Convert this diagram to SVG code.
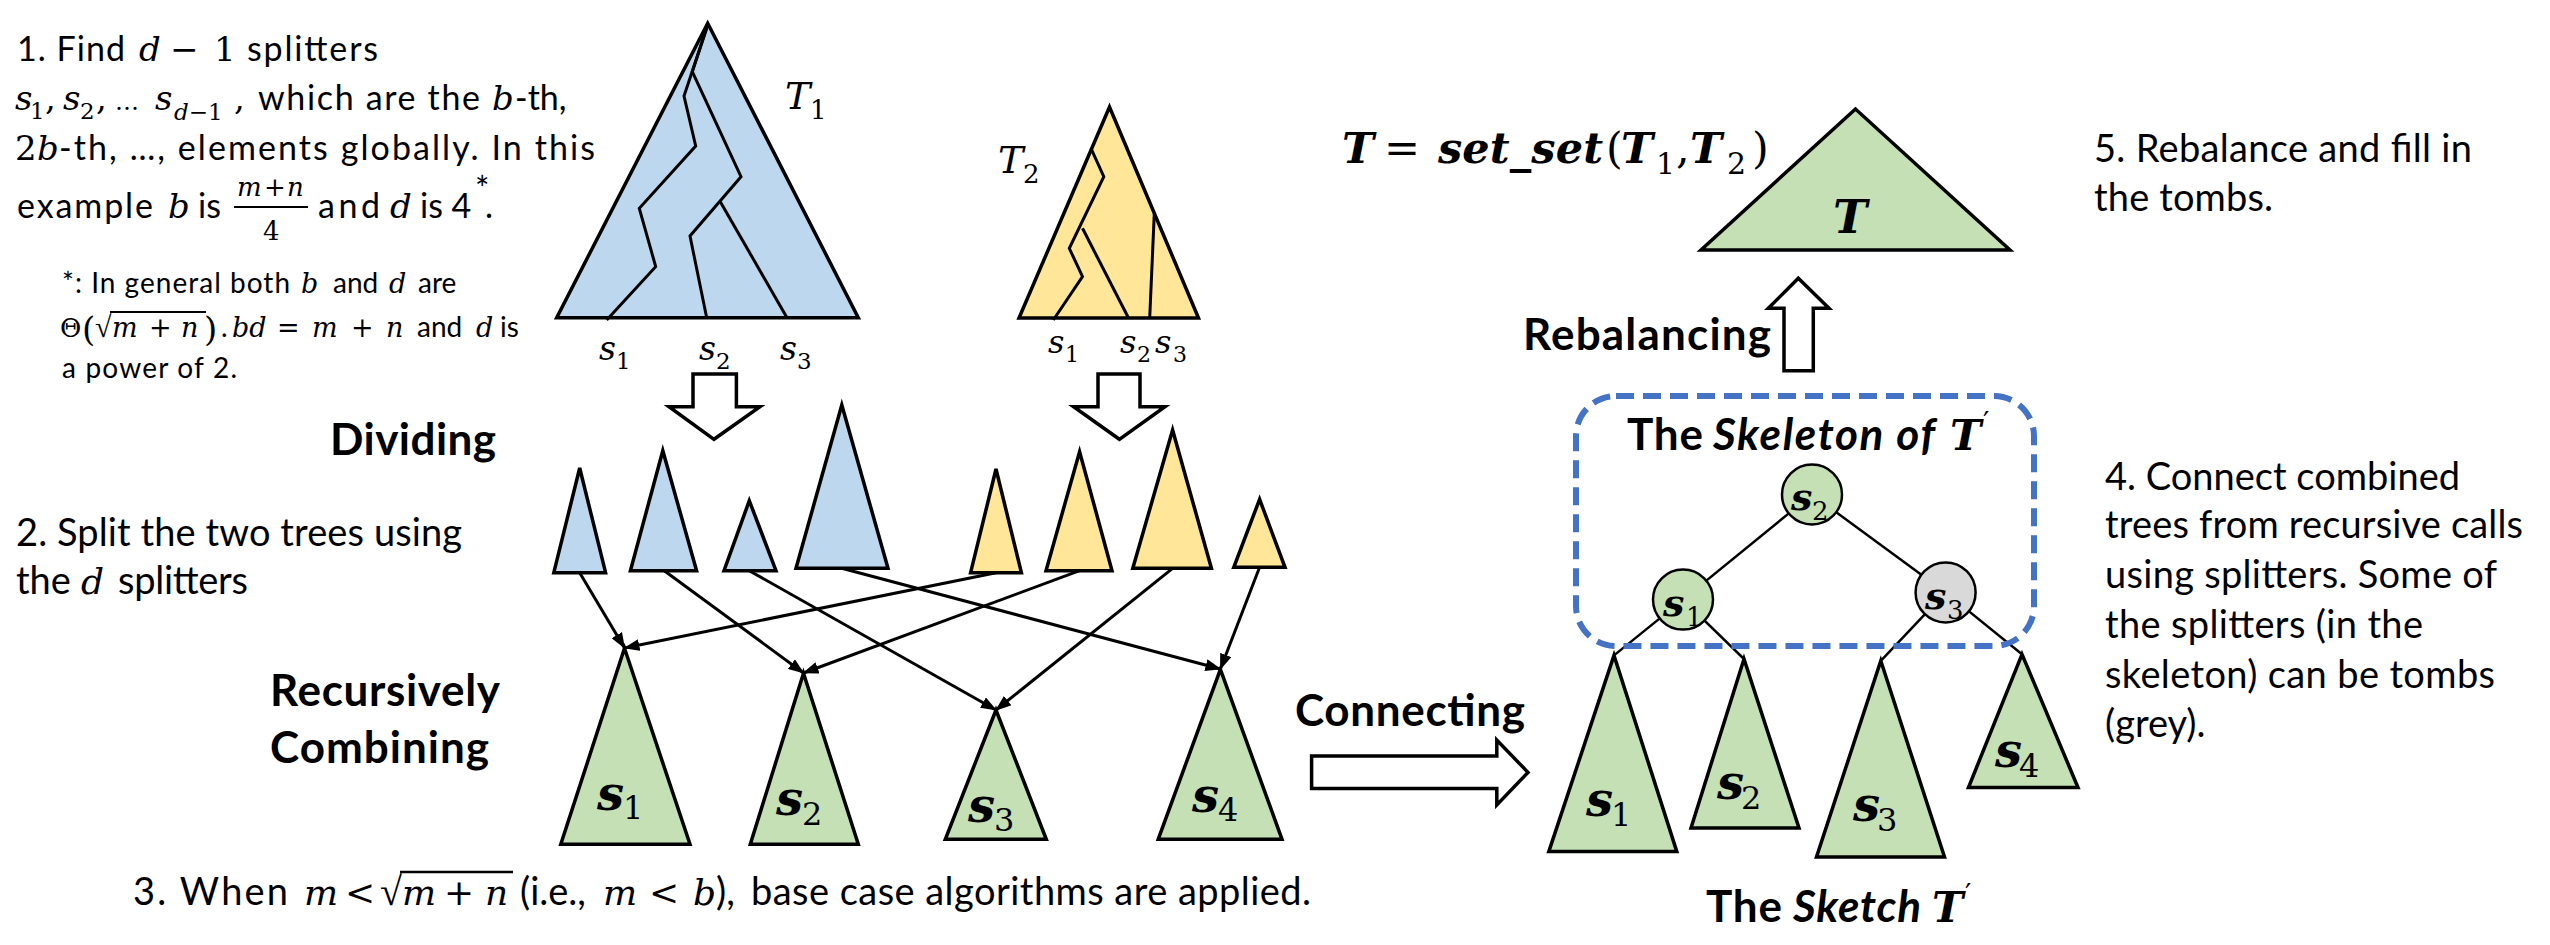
<svg xmlns="http://www.w3.org/2000/svg" width="2550" height="945" viewBox="0 0 2550 945">
<defs>
<style>
.t{font-family:Lato,"Liberation Sans",sans-serif;font-size:38px;fill:#000}
.t1{font-family:Lato,"Liberation Sans",sans-serif;font-size:34px;fill:#000}
.fn{font-family:Lato,"Liberation Sans",sans-serif;font-size:28px;fill:#000}
.lb{font-family:Lato,"Liberation Sans",sans-serif;font-size:44px;font-weight:bold;fill:#000}
.lbi{font-family:Lato,"Liberation Sans",sans-serif;font-size:44px;font-weight:bold;font-style:italic;fill:#000}
.m{font-family:"DejaVu Serif",serif;font-style:italic;fill:#000}
.mu{font-family:"DejaVu Serif",serif;fill:#000}
.rt{font-family:"Liberation Serif",serif;fill:#000}
.mb{font-family:"DejaVu Serif",serif;font-style:italic;font-weight:bold;fill:#000}
.blue{fill:#BDD7EE;stroke:#000;stroke-width:3.5}
.yel{fill:#FFE699;stroke:#000;stroke-width:3.5}
.grn{fill:#C5E0B4;stroke:#000;stroke-width:3.5}
.inner{fill:none;stroke:#000;stroke-width:3}
.blk{fill:#fff;stroke:#000;stroke-width:3.5}
.con{fill:none;stroke:#000;stroke-width:3}
.edge{fill:none;stroke:#000;stroke-width:2.5}
</style>
<marker id="ah" markerWidth="16" markerHeight="12" refX="15" refY="6" orient="auto" markerUnits="userSpaceOnUse">
<path d="M0,0 L16,6 L0,12 Z" fill="#000"/>
</marker>
</defs>
<rect width="2550" height="945" fill="#fff"/>

<g id="text-step1">
<text class="t1" x="17" y="61" textLength="108">1. Find</text>
<text class="m" x="139" y="61" font-size="34">d</text>
<text class="mu" x="170" y="61" font-size="34">−</text>
<text class="mu" x="214" y="61" font-size="34">1</text>
<text class="t1" x="247" y="61" textLength="131">splitters</text>

<text class="m" x="15" y="110" font-size="34">s</text>
<text class="mu" x="30" y="119" font-size="23">1</text>
<text class="mu" x="45" y="110" font-size="34">,</text>
<text class="m" x="63" y="110" font-size="34">s</text>
<text class="mu" x="80" y="119" font-size="23">2</text>
<text class="mu" x="96" y="110" font-size="34">,</text>
<text class="mu" x="115" y="110" font-size="24">…</text>
<text class="m" x="155" y="110" font-size="34">s</text>
<text class="m" x="174" y="120" font-size="23">d<tspan class="mu" font-style="normal">−1</tspan></text>
<text class="mu" x="234" y="110" font-size="34">,</text>
<text class="t1" x="258" y="110" textLength="222">which are the</text>
<text class="m" x="492" y="110" font-size="34">b</text>
<text class="t1" x="515" y="110">-th,</text>

<text class="mu" x="15" y="160" font-size="34">2</text>
<text class="m" x="37" y="160" font-size="34">b</text>
<text class="t1" x="59" y="160" textLength="536">-th, …, elements globally. In this</text>

<text class="t1" x="17" y="218" textLength="136">example</text>
<text class="m" x="168" y="218" font-size="34">b</text>
<text class="t1" x="198" y="218">is</text>
<text class="m" x="237" y="196" font-size="26">m</text>
<text class="mu" x="264" y="196" font-size="26">+</text>
<text class="m" x="287" y="196" font-size="26">n</text>
<line x1="234" y1="207" x2="308" y2="207" stroke="#000" stroke-width="2"/>
<text class="mu" x="263" y="240" font-size="26">4</text>
<text class="t1" x="318" y="218" textLength="62">and</text>
<text class="m" x="390" y="218" font-size="34">d</text>
<text class="t1" x="420" y="218">is 4</text>
<text class="t1" x="475" y="201" font-size="20">*</text>
<text class="t1" x="485" y="218">.</text>
</g>

<g id="text-footnote">
<text class="fn" x="62" y="293" textLength="228">*: In general both</text>
<text class="m" x="301" y="293" font-size="27">b</text>
<text class="fn" x="333" y="293">and</text>
<text class="m" x="389" y="293" font-size="27">d</text>
<text class="fn" x="418" y="293">are</text>
<text class="mu" x="60" y="337" font-size="26">Θ</text>
<text class="mu" x="82" y="341" font-size="34">(</text>
<text class="rt" x="95" y="337" font-size="30">√</text>
<line x1="110" y1="312" x2="206" y2="312" stroke="#000" stroke-width="2"/>
<text class="m" x="112" y="337" font-size="27">m</text>
<text class="mu" x="149" y="337" font-size="27">+</text>
<text class="m" x="181" y="337" font-size="27">n</text>
<text class="mu" x="204" y="341" font-size="34">)</text>
<text class="fn" x="221" y="337">.</text>
<text class="m" x="232" y="337" font-size="27">bd</text>
<text class="mu" x="277" y="337" font-size="27">=</text>
<text class="m" x="312" y="337" font-size="27">m</text>
<text class="mu" x="351" y="337" font-size="27">+</text>
<text class="m" x="386" y="337" font-size="27">n</text>
<text class="fn" x="417" y="337">and</text>
<text class="m" x="476" y="337" font-size="27">d</text>
<text class="fn" x="500" y="337">is</text>
<text class="fn" x="62" y="378" textLength="175">a power of 2.</text>
</g>

<g id="text-step2">
<text class="t" x="16" y="546" textLength="446">2. Split the two trees using</text>
<text class="t" x="16" y="594">the</text>
<text class="m" x="81" y="594" font-size="36">d</text>
<text class="t" x="118" y="594" textLength="130">splitters</text>
</g>

<g id="text-step3">
<text class="t" x="133" y="905" textLength="155">3. When</text>
<text class="m" x="304" y="905" font-size="36">m</text>
<text class="mu" x="345" y="905" font-size="36">&lt;</text>
<text class="rt" x="380" y="905" font-size="40">√</text>
<line x1="400" y1="872" x2="513" y2="872" stroke="#000" stroke-width="2.5"/>
<text class="m" x="402" y="905" font-size="36">m</text>
<text class="mu" x="444" y="905" font-size="36">+</text>
<text class="m" x="485" y="905" font-size="36">n</text>
<text class="t" x="520" y="905">(i.e.,</text>
<text class="m" x="603" y="905" font-size="36">m</text>
<text class="mu" x="649" y="905" font-size="36">&lt;</text>
<text class="m" x="693" y="905" font-size="36">b</text>
<text class="t" x="716" y="905">),</text>
<text class="t" x="751" y="905" textLength="560">base case algorithms are applied.</text>
</g>

<g id="text-step4">
<text class="t" x="2105" y="490" textLength="355">4. Connect combined</text>
<text class="t" x="2105" y="538" textLength="418">trees from recursive calls</text>
<text class="t" x="2105" y="588" textLength="392">using splitters. Some of</text>
<text class="t" x="2105" y="638" textLength="318">the splitters (in the</text>
<text class="t" x="2105" y="688" textLength="390">skeleton) can be tombs</text>
<text class="t" x="2105" y="737">(grey).</text>
</g>

<g id="text-step5">
<text class="t" x="2094" y="162" textLength="378">5. Rebalance and fill in</text>
<text class="t" x="2094" y="211" textLength="179">the tombs.</text>
</g>

<g id="label-dividing"><text class="lb" x="330" y="455" textLength="166">Dividing</text></g>
<g id="label-recursive">
<text class="lb" x="270" y="706" textLength="230">Recursively</text>
<text class="lb" x="270" y="763" textLength="219">Combining</text>
</g>
<g id="label-connecting"><text class="lb" x="1295" y="726" textLength="230">Connecting</text></g>
<g id="label-rebalancing"><text class="lb" x="1523" y="350" textLength="248">Rebalancing</text></g>

<g id="formula">
<text class="mb" x="1342" y="163" font-size="43">T</text>
<text class="mu" x="1384" y="163" font-size="43">=</text>
<text class="mb" x="1438" y="163" font-size="43" textLength="165">set_set</text>
<text class="mu" x="1606" y="163" font-size="43">(</text>
<text class="mb" x="1621" y="163" font-size="43">T</text>
<text class="mu" x="1656" y="174" font-size="30">1</text>
<text class="mu" x="1676" y="163" font-size="43">,</text>
<text class="mb" x="1690" y="163" font-size="43">T</text>
<text class="mu" x="1727" y="174" font-size="30">2</text>
<text class="mu" x="1752" y="163" font-size="43">)</text>
</g>

<g id="connectors">
<path class="blk" d="M693,374 L736.4,374 L736.4,406.7 L760,406.7 L714,439.3 L669,406.7 L693,406.7 Z"/>
<path class="blk" d="M1098,374 L1140,374 L1140,406.7 L1165,406.7 L1119.4,439.3 L1073.6,406.7 L1098,406.7 Z"/>
<path class="blk" d="M1311.6,756 L1496.8,756 L1496.8,740 L1528,772.4 L1496.8,805 L1496.8,788.6 L1311.6,788.6 Z"/>
<path class="blk" d="M1784,370.7 L1784,308.3 L1768.3,308.3 L1798.3,278.3 L1829,308.3 L1813.3,308.3 L1813.3,370.7 Z"/>
<line class="con" x1="579.7" y1="572.7" x2="624.5" y2="648" marker-end="url(#ah)"/>
<line class="con" x1="664.3" y1="570.7" x2="803.5" y2="673" marker-end="url(#ah)"/>
<line class="con" x1="749.3" y1="570.7" x2="996" y2="710" marker-end="url(#ah)"/>
<line class="con" x1="841.8" y1="568.3" x2="1220.4" y2="669" marker-end="url(#ah)"/>
<line class="con" x1="996" y1="572.7" x2="624.5" y2="648" marker-end="url(#ah)"/>
<line class="con" x1="1079.6" y1="570.7" x2="803.5" y2="673" marker-end="url(#ah)"/>
<line class="con" x1="1172.6" y1="568.3" x2="996" y2="710" marker-end="url(#ah)"/>
<line class="con" x1="1259.6" y1="567.3" x2="1220.4" y2="669" marker-end="url(#ah)"/>
<line class="edge" x1="1812" y1="494.5" x2="1683" y2="599.6"/>
<line class="edge" x1="1812" y1="494.5" x2="1945.6" y2="592.4"/>
<line class="edge" x1="1683" y1="599.6" x2="1614" y2="655.4"/>
<line class="edge" x1="1683" y1="599.6" x2="1744" y2="659"/>
<line class="edge" x1="1945.6" y1="592.4" x2="1880.8" y2="660.8"/>
<line class="edge" x1="1945.6" y1="592.4" x2="2022" y2="654.3"/>
</g>

<g id="tree-T1">
<polygon class="blue" points="707.7,23.3 556.7,317.7 858.3,317.7"/>
<polyline class="inner" points="707.7,25 684,96 695.7,146 639.3,208.3 655.7,266.7 606.7,320"/>
<polyline class="inner" points="707.7,25 692.3,71.7 741,176.7 690,236 706.7,317.7"/>
<polyline class="inner" points="720.3,201.7 787,317.7"/>
<text class="m" x="785" y="109" font-size="38">T</text>
<text class="mu" x="810" y="119" font-size="26">1</text>
<text class="m" x="599" y="360" font-size="33">s</text>
<text class="mu" x="616" y="369" font-size="23">1</text>
<text class="m" x="699" y="360" font-size="33">s</text>
<text class="mu" x="716" y="369" font-size="23">2</text>
<text class="m" x="780" y="360" font-size="33">s</text>
<text class="mu" x="797" y="369" font-size="23">3</text>
</g>

<g id="tree-T2">
<polygon class="yel" points="1109.5,107 1019,318 1198.5,318"/>
<polyline class="inner" points="1091,148.3 1103.8,176.7 1069.3,248.3 1082.5,276.7 1053.3,320"/>
<polyline class="inner" points="1082.5,228.3 1128.5,318"/>
<polyline class="inner" points="1154.3,213.3 1149.7,318"/>
<text class="m" x="998" y="173" font-size="38">T</text>
<text class="mu" x="1023" y="183" font-size="26">2</text>
<text class="m" x="1048" y="353" font-size="32">s</text>
<text class="mu" x="1065" y="362" font-size="22">1</text>
<text class="m" x="1120" y="353" font-size="32">s</text>
<text class="mu" x="1137" y="362" font-size="22">2</text>
<text class="m" x="1155" y="353" font-size="32">s</text>
<text class="mu" x="1173" y="362" font-size="22">3</text>
</g>

<g id="split-blue">
<polygon class="blue" points="579.7,468 553.8,572.7 605.6,572.7"/>
<polygon class="blue" points="662.8,450.7 630.4,570.7 696.6,570.7"/>
<polygon class="blue" points="749.3,500.7 724,570.7 776,570.7"/>
<polygon class="blue" points="841.8,405 796,568.3 888,568.3"/>
</g>
<g id="split-yellow">
<polygon class="yel" points="996,469 970.6,572.7 1021.4,572.7"/>
<polygon class="yel" points="1079.6,451.7 1046,570.7 1112,570.7"/>
<polygon class="yel" points="1172.6,430 1132.8,568.3 1211.4,568.3"/>
<polygon class="yel" points="1259.6,499.3 1233.8,567.3 1285,567.3"/>
</g>

<g id="combined-S1">
<polygon class="grn" points="624.5,648.3 560.8,844.3 690,844.3"/>
<text class="mb" x="597" y="810" font-size="48">s</text>
<text class="mu" x="623" y="819" font-size="32">1</text>
</g>
<g id="combined-S2">
<polygon class="grn" points="803.5,673.3 750.3,844.3 858.3,844.3"/>
<text class="mb" x="776" y="815" font-size="48">s</text>
<text class="mu" x="802" y="825" font-size="32">2</text>
</g>
<g id="combined-S3">
<polygon class="grn" points="996,710 945.3,839.3 1046.3,839.3"/>
<text class="mb" x="968" y="822" font-size="48">s</text>
<text class="mu" x="994" y="831" font-size="32">3</text>
</g>
<g id="combined-S4">
<polygon class="grn" points="1220.4,669.3 1158.2,839.3 1282,839.3"/>
<text class="mb" x="1192" y="812" font-size="48">s</text>
<text class="mu" x="1218" y="821" font-size="32">4</text>
</g>

<g id="result-T">
<polygon class="grn" points="1855.5,109 1701,250 2010,250"/>
<text class="mb" x="1833" y="233" font-size="46">T</text>
</g>

<g id="skeleton-box">
<rect x="1576" y="396" width="458" height="250" rx="40" ry="40" fill="none" stroke="#4472C4" stroke-width="6" stroke-dasharray="18 9"/>
<text class="lb" x="1627" y="450" textLength="76">The</text>
<text class="lbi" x="1713" y="450" textLength="222">Skeleton of</text>
<text class="mb" x="1950" y="450" font-size="42">T</text>
<text class="mu" x="1983" y="432" font-size="28">′</text>
</g>

<g id="node-s2">
<circle cx="1812" cy="494.5" r="30" fill="#C5E0B4" stroke="#000" stroke-width="2.5"/>
<text class="mb" x="1791" y="510" font-size="38">s</text>
<text class="mu" x="1812" y="520" font-size="26">2</text>
</g>
<g id="node-s1">
<circle cx="1683" cy="599.6" r="30" fill="#C5E0B4" stroke="#000" stroke-width="2.5"/>
<text class="mb" x="1663" y="616" font-size="38">s</text>
<text class="mu" x="1686" y="626" font-size="26">1</text>
</g>
<g id="node-s3">
<circle cx="1945.6" cy="592.4" r="30" fill="#D9D9D9" stroke="#000" stroke-width="2.5"/>
<text class="mb" x="1925" y="609" font-size="38">s</text>
<text class="mu" x="1947" y="619" font-size="26">3</text>
</g>

<g id="sketch-S1">
<polygon class="grn" points="1614,655.4 1548.8,851.6 1676.8,851.6"/>
<text class="mb" x="1586" y="816" font-size="48">s</text>
<text class="mu" x="1611" y="826" font-size="32">1</text>
</g>
<g id="sketch-S2">
<polygon class="grn" points="1744,659 1691,828 1799,828"/>
<text class="mb" x="1717" y="799" font-size="48">s</text>
<text class="mu" x="1741" y="809" font-size="32">2</text>
</g>
<g id="sketch-S3">
<polygon class="grn" points="1880.8,660.8 1816.5,857 1944.5,857"/>
<text class="mb" x="1853" y="821" font-size="48">s</text>
<text class="mu" x="1877" y="831" font-size="32">3</text>
</g>
<g id="sketch-S4">
<polygon class="grn" points="2022,654.3 1968.5,787.5 2078,787.5"/>
<text class="mb" x="1995" y="767" font-size="48">s</text>
<text class="mu" x="2019" y="777" font-size="32">4</text>
</g>

<g id="label-sketch">
<text class="lb" x="1706" y="922" textLength="76">The</text>
<text class="lbi" x="1793" y="922" textLength="128">Sketch</text>
<text class="mb" x="1932" y="922" font-size="42">T</text>
<text class="mu" x="1965" y="904" font-size="28">′</text>
</g>
</svg>
